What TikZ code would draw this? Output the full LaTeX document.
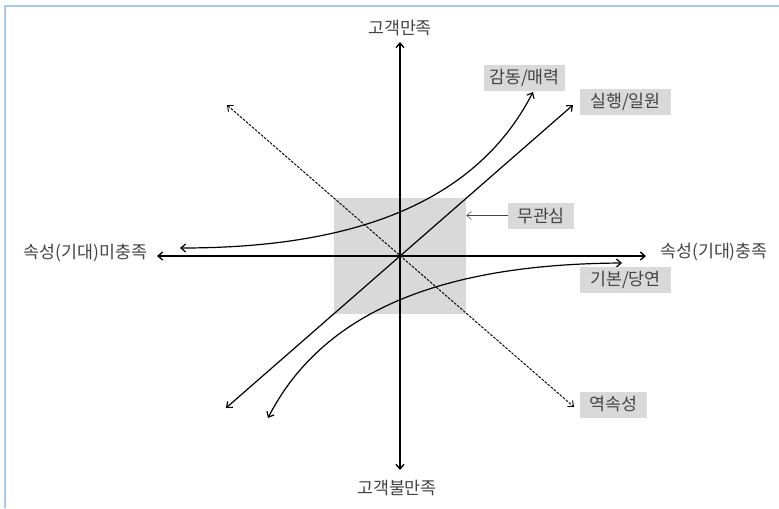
\documentclass[tikz,border=0pt]{standalone}
\usepackage{fontspec}
\usepackage{tikz}
\usetikzlibrary{arrows.meta,positioning,calc}
\setmainfont{Noto Sans CJK KR}
\definecolor{frameblue}{HTML}{A9C8EA}
\definecolor{zonegray}{HTML}{D9D9D9}
\definecolor{textgray}{HTML}{444444}

\begin{document}
\begin{tikzpicture}[x=0.75pt, y=-0.75pt,
  >={Straight Barb[length=3.5pt,width=6pt]},
  axisline/.style={line width=1pt, <->},
  curveline/.style={line width=0.9pt, <->},
  tag/.style={fill=zonegray, text=textgray, minimum height=19.5pt, inner xsep=2pt, inner ysep=0pt},
  axislabel/.style={text=textgray, inner sep=0pt},
  font=\fontsize{13pt}{15pt}\selectfont]
\useasboundingbox (0,0) rectangle (779,508);
\draw[frameblue, line width=1.5pt] (5,508) -- (5,5.5) -- (779,5.5);
% indifferent zone
\node[fill=zonegray, minimum width=99pt, minimum height=87pt, inner sep=0pt] (zone) at (400,256) {};
% axes
\coordinate (o) at (400,256);
\coordinate (xl) at (157,256);
\coordinate (xr) at (646,256);
\coordinate (yt) at (400,42);
\coordinate (yb) at (400,470);
\draw[axisline] (xl) -- (xr);
\draw[axisline] (yt) -- (yb);
\node[axislabel] (sat) at (400,28) {고객만족};
\node[axislabel] (dissat) at (397,488) {고객불만족};
\node[axislabel] (unmet) at (85.5,253) {속성(기대)미충족};
\node[axislabel] (met) at (714,252) {속성(기대)충족};
% quality curves
\coordinate (attl) at (180,248);
\coordinate (attr) at (533,92);
\coordinate (onel) at (226,408);
\coordinate (oner) at (573,105);
\coordinate (musl) at (268,418);
\coordinate (musr) at (622,263);
\coordinate (revl) at (227,105);
\coordinate (revr) at (574,407);
\draw[curveline] (attl) .. controls (330,248) and (470,215) .. (attr);
\draw[curveline] (onel) -- (oner);
\draw[curveline] (musl) .. controls (330,297) and (470,264) .. (musr);
\draw[line width=0.7pt, <->, dash pattern=on 2pt off 1pt] (revl) -- (revr);
% labels
\node[tag, minimum width=60.75pt] (attract) at (524.5,78) {감동/매력};
\node[tag, minimum width=68.25pt] (onedim) at (625.5,101.5) {실행/일원};
\node[tag, minimum width=49.5pt] (apathy) at (541,215.5) {무관심};
\node[tag, minimum width=68.25pt] (must) at (625.5,280) {기본/당연};
\node[tag, minimum width=50.25pt] (reverse) at (613.5,404.5) {역속성};
\draw[line width=0.4pt, textgray, ->] (apathy.west) -- (apathy.west -| zone.east);
\end{tikzpicture}
\end{document}
